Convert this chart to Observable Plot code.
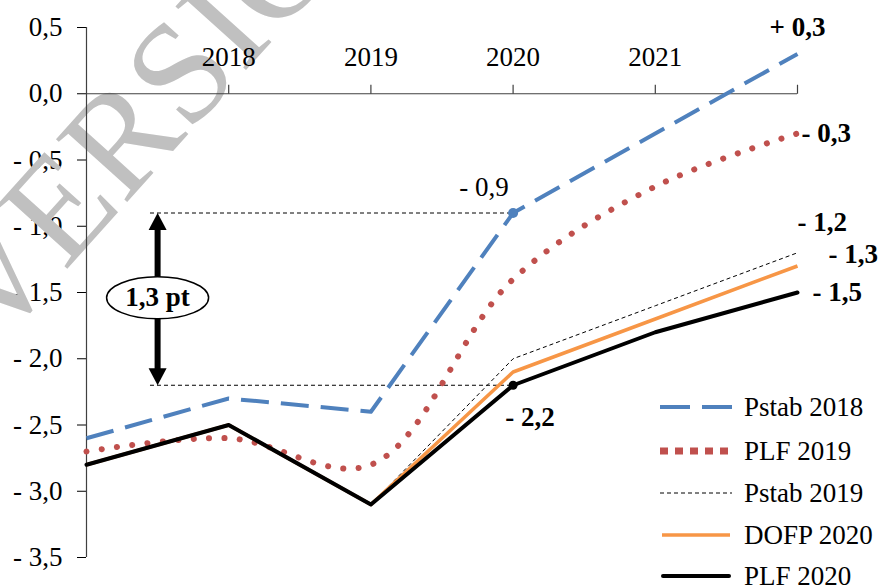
<!DOCTYPE html>
<html><head><meta charset="utf-8">
<script src="https://cdn.jsdelivr.net/npm/d3@7"></script>
<script src="https://cdn.jsdelivr.net/npm/@observablehq/plot@0.6"></script>
<style>
html,body{margin:0;padding:0;background:#fff;}
#wrap{position:relative;width:880px;height:588px;overflow:hidden;font-family:"Liberation Serif",serif;}
.lg{position:absolute;display:flex;align-items:center;font-size:27px;color:#000;white-space:nowrap;}
.lg svg{margin-right:12px;}
</style></head><body><div id="wrap"></div>
<script>
// ---- data ----
const years = [2017, 2018, 2019, 2020, 2021, 2022];
const seriesNames = ["Pstab 2018", "PLF 2019", "Pstab 2019", "DOFP 2020", "PLF 2020"];
const pstab2018 = [-2.6, -2.3, -2.4, -0.9, -0.3, 0.3];
const plf2019   = [-2.7, -2.6, -2.8, -1.4, -0.7, -0.3];
const pstab2019 = [-2.8, -2.5, -3.1, -2.0, -1.6, -1.2];
const dofp2020  = [-2.8, -2.5, -3.1, -2.1, -1.7, -1.3];
const plf2020   = [-2.8, -2.5, -3.1, -2.2, -1.8, -1.5];
const xTickYears = [2018, 2019, 2020, 2021, 2022];
const xTickLabels = ["2018", "2019", "2020", "2021", ""];
const yTicks = [0.5, 0, -0.5, -1, -1.5, -2, -2.5, -3, -3.5];
const endLabels = ["+ 0,3", "- 0,3", "- 1,2", "- 1,3", "- 1,5"];
const gapYear = 2020;
const gapValues = [-0.9, -2.2];
const gapLabels = ["- 0,9", "- 2,2"];
const gapText = "1,3 pt";
const watermark = "VERSION PROVISOIRE";

// ---- styles ----
const values = [pstab2018, plf2019, pstab2019, dofp2020, plf2020];
const styles = [
  {stroke: "#4f81bd", strokeWidth: 4, strokeDasharray: "28,12", curve: "linear", strokeLinecap: "butt"},
  {stroke: "#c0504d", strokeWidth: 6, strokeDasharray: "0.1,15.3", curve: "catmull-rom", strokeLinecap: "round"},
  {stroke: "#000000", strokeWidth: 1, strokeDasharray: "4,3", curve: "linear", strokeLinecap: "butt"},
  {stroke: "#f79646", strokeWidth: 3.5, strokeDasharray: null, curve: "linear", strokeLinecap: "butt"},
  {stroke: "#000000", strokeWidth: 4, strokeDasharray: null, curve: "linear", strokeLinecap: "round"}
];
const endLabelStyle = [
  {dx: 0, dy: -27, textAnchor: "middle", fontWeight: "bold"},
  {dx: 4, dy: 0, textAnchor: "start", fontWeight: "bold"},
  {dx: 0, dy: -30, textAnchor: "start", fontWeight: "bold"},
  {dx: 31, dy: -12, textAnchor: "start", fontWeight: "bold"},
  {dx: 15, dy: 0, textAnchor: "start", fontWeight: "bold"}
];

const fmt = v => (v < 0 ? "- " : "") + Math.abs(v).toFixed(1).replace(".", ",");

const tickUp = {draw(c) { c.moveTo(0, 0); c.lineTo(0, -9); }};
const headUp = {draw(c) { c.moveTo(0, 0); c.lineTo(9, 17); c.lineTo(-9, 17); c.closePath(); }};
const headDown = {draw(c) { c.moveTo(0, 0); c.lineTo(9, -17); c.lineTo(-9, -17); c.closePath(); }};
const ellipse = {draw(c) {
  const rx = 51, ry = 21, k = 0.5523;
  c.moveTo(rx, 0);
  c.bezierCurveTo(rx, ry * k, rx * k, ry, 0, ry);
  c.bezierCurveTo(-rx * k, ry, -rx, ry * k, -rx, 0);
  c.bezierCurveTo(-rx, -ry * k, -rx * k, -ry, 0, -ry);
  c.bezierCurveTo(rx * k, -ry, rx, -ry * k, rx, 0);
  c.closePath();
}};

const annX = 2017.5;      // arrow position
const dashStart = 2017.45;

const marks = [
  Plot.text([watermark], {frameAnchor: "top-left", text: d => d, dx: -92, dy: 322, rotate: -48,
    fontSize: 145, fill: "#c0c0c0", textAnchor: "start", lineAnchor: "bottom", fontFamily: "Liberation Serif"}),
  Plot.ruleY([0], {x1: 2017, x2: 2022, stroke: "#404040", strokeWidth: 1.2}),
  Plot.ruleX([2017], {y1: -3.5, y2: 0.5, stroke: "#404040", strokeWidth: 1.2}),
  Plot.dot(xTickYears, {x: d => d, y: 0, symbol: tickUp, fill: "none", stroke: "#404040", strokeWidth: 1.2}),
  Plot.text(xTickYears.filter((d, i) => xTickLabels[i]), {x: d => d, y: 0, text: d => xTickLabels[xTickYears.indexOf(d)], dy: -36, lineAnchor: "middle"}),
  // reference dashed lines
  Plot.ruleY(gapValues, {x1: dashStart, x2: gapYear, stroke: "#000", strokeWidth: 1, strokeDasharray: "4,3"})
];
values.forEach((vals, i) => {
  const s = styles[i];
  marks.push(Plot.line(years.map((y, j) => ({year: y, v: vals[j]})), {
    x: "year", y: "v", stroke: s.stroke, strokeWidth: s.strokeWidth,
    strokeDasharray: s.strokeDasharray, curve: s.curve, strokeLinecap: s.strokeLinecap, strokeLinejoin: "round"
  }));
});
// arrow
marks.push(
  Plot.ruleX([annX], {y1: gapValues[0], y2: gapValues[1], stroke: "#000", strokeWidth: 6, insetTop: 14, insetBottom: 14}),
  Plot.dot([annX], {x: d => d, y: gapValues[0], symbol: headUp, fill: "#000", stroke: "none"}),
  Plot.dot([annX], {x: d => d, y: gapValues[1], symbol: headDown, fill: "#000", stroke: "none"}),
  Plot.dot([annX], {x: d => d, y: (gapValues[0] + gapValues[1]) / 2 + 0.01, symbol: ellipse, fill: "#fff", stroke: "#000", strokeWidth: 1.5}),
  Plot.text([gapText], {x: annX, y: (gapValues[0] + gapValues[1]) / 2 + 0.01, text: d => d, fontWeight: "bold", lineAnchor: "middle"})
);
// highlighted points
marks.push(
  Plot.dot([gapValues[0]], {x: gapYear, y: d => d, r: 5, fill: "#4f81bd"}),
  Plot.dot([gapValues[1]], {x: gapYear, y: d => d, r: 4.5, fill: "#000"}),
  Plot.text([gapLabels[0]], {x: gapYear, y: gapValues[0], text: d => d, dx: -29, dy: -26, lineAnchor: "middle"}),
  Plot.text([gapLabels[1]], {x: gapYear, y: gapValues[1], text: d => d, dx: 17, dy: 32, lineAnchor: "middle", fontWeight: "bold"})
);
// end labels
values.forEach((vals, i) => {
  const st = endLabelStyle[i];
  marks.push(Plot.text([endLabels[i]], {x: years[years.length - 1], y: vals[vals.length - 1], text: d => d,
    dx: st.dx, dy: st.dy, textAnchor: st.textAnchor, fontWeight: st.fontWeight, lineAnchor: "middle"}));
});

const chart = Plot.plot({
  width: 880, height: 588,
  marginLeft: 86, marginRight: 83, marginTop: 27, marginBottom: 31,
  style: {fontFamily: "Liberation Serif, serif", fontSize: "27px", color: "#000", background: "transparent", overflow: "visible"},
  x: {domain: [2017, 2022], axis: null},
  y: {domain: [-3.5, 0.5], ticks: yTicks, tickFormat: fmt, tickSize: 9, tickPadding: 15, label: null},
  marks
});
const wrap = document.getElementById("wrap");
wrap.appendChild(chart);

// legend overlay
const rowY = [407, 451, 493, 535, 576];
const legendSamples = [
  {dash: "30,12", w: 4, cap: "butt", x1: 0, x2: 72},
  {dash: "8,7", w: 7, cap: "butt", x1: 0, x2: 72},
  {dash: "4,3", w: 1, cap: "butt", x1: 0, x2: 72},
  {dash: null, w: 3.5, cap: "butt", x1: 2, x2: 70},
  {dash: null, w: 4, cap: "round", x1: 3, x2: 69}
];
seriesNames.forEach((name, i) => {
  const d = document.createElement("div");
  d.className = "lg";
  d.style.left = "660px";
  d.style.top = (rowY[i] - 16) + "px";
  d.style.height = "32px";
  const s = legendSamples[i];
  const svg = d3.create("svg").attr("width", 72).attr("height", 20);
  svg.append("line").attr("x1", s.x1).attr("x2", s.x2).attr("y1", 10).attr("y2", 10)
    .attr("stroke", styles[i].stroke).attr("stroke-width", s.w)
    .attr("stroke-dasharray", s.dash).attr("stroke-linecap", s.cap);
  d.appendChild(svg.node());
  const t = document.createElement("span");
  t.textContent = name;
  d.appendChild(t);
  wrap.appendChild(d);
});
</script></body></html>
